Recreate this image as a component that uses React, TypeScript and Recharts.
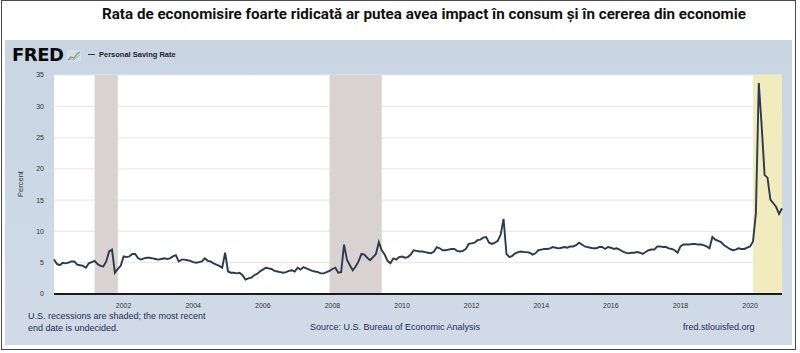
import {
  LineChart,
  Line,
  XAxis,
  YAxis,
  CartesianGrid,
  ReferenceArea,
} from "recharts";

// Personal Saving Rate, monthly, Jan..Dec of each year (percent)
const y2000 = [5.5, 4.8, 4.6, 5.0, 4.9, 5.0, 5.2, 5.2, 4.7, 4.6, 4.5, 4.2];
const y2001 = [4.9, 5.1, 5.3, 4.8, 4.5, 4.4, 5.2, 6.8, 7.1, 3.4, 4.0, 4.5];
const y2002 = [6.0, 5.9, 6.0, 6.4, 6.4, 5.7, 5.5, 5.7, 5.8, 5.8, 5.7, 5.6];
const y2003 = [5.5, 5.6, 5.7, 5.6, 5.7, 6.0, 6.2, 5.2, 5.5, 5.5, 5.4, 5.3];
const y2004 = [5.1, 5.0, 5.1, 5.2, 5.7, 5.3, 5.2, 4.9, 4.7, 4.5, 4.2, 6.6];
const y2005 = [3.6, 3.4, 3.4, 3.3, 3.4, 3.0, 2.3, 2.5, 2.6, 3.0, 3.2, 3.6];
const y2006 = [3.9, 4.2, 4.1, 4.0, 3.7, 3.6, 3.5, 3.4, 3.5, 3.7, 3.8, 3.6];
const y2007 = [4.2, 3.9, 4.3, 4.1, 3.9, 3.7, 3.6, 3.5, 3.3, 3.3, 3.5, 3.7];
const y2008 = [4.0, 4.2, 3.4, 3.5, 7.9, 5.5, 4.6, 3.8, 4.4, 5.2, 6.4, 6.3];
const y2009 = [5.8, 5.4, 5.9, 6.4, 8.3, 7.0, 6.3, 5.3, 4.9, 5.7, 5.5, 5.9];
const y2010 = [6.0, 5.8, 5.9, 6.3, 7.0, 6.9, 6.8, 6.8, 6.7, 6.6, 6.5, 6.8];
const y2011 = [7.5, 7.3, 7.0, 7.0, 7.1, 7.2, 7.2, 6.9, 6.8, 6.9, 7.2, 8.0];
const y2012 = [8.1, 8.2, 8.6, 8.7, 9.0, 9.1, 8.2, 8.0, 8.2, 8.5, 9.5, 12.0];
const y2013 = [6.4, 5.9, 6.1, 6.5, 6.7, 6.8, 6.7, 6.7, 6.6, 6.3, 6.5, 7.0];
const y2014 = [7.1, 7.2, 7.2, 7.3, 7.5, 7.4, 7.3, 7.4, 7.5, 7.4, 7.6, 7.6];
const y2015 = [7.8, 8.2, 7.9, 7.6, 7.5, 7.4, 7.3, 7.3, 7.5, 7.5, 7.2, 7.5];
const y2016 = [7.4, 7.2, 7.3, 7.1, 6.8, 6.6, 6.5, 6.6, 6.6, 6.7, 6.6, 6.4];
const y2017 = [6.7, 7.0, 7.1, 7.1, 7.6, 7.6, 7.5, 7.5, 7.3, 7.2, 7.0, 6.6];
const y2018 = [7.6, 7.9, 7.9, 7.9, 8.0, 8.0, 7.9, 7.9, 7.8, 7.6, 7.3, 9.1];
const y2019 = [8.7, 8.5, 8.3, 7.8, 7.5, 7.2, 7.0, 7.1, 7.3, 7.2, 7.2, 7.4];
const y2020 = [7.6, 8.4, 12.9, 33.7, 26.8, 19.0, 18.6, 15.1, 14.5, 13.9, 12.8, 13.7];

const years = [
  y2000, y2001, y2002, y2003, y2004, y2005, y2006, y2007, y2008, y2009, y2010,
  y2011, y2012, y2013, y2014, y2015, y2016, y2017, y2018, y2019, y2020,
];
const firstYear = 2000;

const xTicks = [2002, 2004, 2006, 2008, 2010, 2012, 2014, 2016, 2018, 2020];
const yTicks = [0, 5, 10, 15, 20, 25, 30, 35];

// recessions [start, end] in fractional years
const recessions = [
  [2001 + 2 / 12, 2001 + 10 / 12],
  [2007 + 11 / 12, 2009 + 5 / 12],
];
const covid = [2020 + 1 / 12, 2020 + 11 / 12];

const data = years.flatMap((vals, yi) =>
  vals.map((v, m) => ({ t: firstYear + yi + m / 12, value: v }))
);

const small = { fontFamily: "'Liberation Sans', Arial, sans-serif" };

export default function App() {
  return (
    <div
      style={{
        position: "absolute",
        left: 0,
        top: 0,
        width: 800,
        height: 353,
        background: "#fff",
        overflow: "hidden",
      }}
    >
      <svg width={800} height={38} style={{ position: "absolute", left: 0, top: 0 }}>
        <text
          x={424}
          y={19}
          textAnchor="middle"
          textLength={644}
          lengthAdjust="spacingAndGlyphs"
          fontFamily="Roboto, sans-serif"
          fontWeight={700}
          fontSize={14}
          fill="#111"
        >
          Rata de economisire foarte ridicată ar putea avea impact în consum și în cererea din economie
        </text>
      </svg>

      {/* outer frame */}
      <div
        style={{
          position: "absolute",
          left: 1,
          top: 0,
          width: 793,
          height: 348,
          border: "1.5px solid #4a4a4a",
          pointerEvents: "none",
        }}
      />

      {/* FRED panel */}
      <div
        style={{
          position: "absolute",
          left: 5,
          top: 40,
          width: 787,
          height: 305,
          background: "linear-gradient(#c9d5e3, #d0dbe7)",
        }}
      />

      <div
        style={{
          position: "absolute",
          left: 12,
          top: 44,
          fontFamily: "'DejaVu Sans', sans-serif",
          fontWeight: 900,
          fontSize: 18,
          letterSpacing: -0.5,
          color: "#0a0a0a",
        }}
      >
        FRED
      </div>
      <svg width={14} height={12} style={{ position: "absolute", left: 67, top: 50 }}>
        <rect x={0} y={0} width={14} height={12} fill="#d6dde4" />
        <polyline points="1,10 4,7 7,8 10,4 13,2" fill="none" stroke="#7d9b6a" strokeWidth={1.2} />
        <polyline points="1,11 4,9 7,10 10,7 13,5" fill="none" stroke="#9aa8b6" strokeWidth={0.8} />
      </svg>
      <div
        style={{
          ...small,
          position: "absolute",
          left: 88,
          top: 50,
          fontSize: 7.5,
          fontWeight: 700,
          color: "#222",
          display: "flex",
          alignItems: "center",
          gap: 4,
        }}
      >
        <span style={{ display: "inline-block", width: 7, height: 1.5, background: "#2b3a4d" }} />
        Personal Saving Rate
      </div>

      <div
        style={{
          ...small,
          position: "absolute",
          left: 20,
          top: 184,
          fontSize: 7.5,
          color: "#333",
          transform: "translate(-50%, -50%) rotate(-90deg)",
        }}
      >
        Percent
      </div>

      <div style={{ position: "absolute", left: 0, top: 0 }}>
        <LineChart
          width={800}
          height={353}
          data={data}
          margin={{ top: 75, right: 18, bottom: 39, left: 24 }}
        >
          <CartesianGrid
            vertical={false}
            horizontal
            stroke="#efe8ea"
            strokeWidth={1.2}
            fill="#ffffff"
            fillOpacity={1}
          />
          {recessions.map(([a, b], i) => (
            <ReferenceArea
              key={i}
              x1={a}
              x2={b}
              y1={0}
              y2={35}
              fill="#d9d2d3"
              fillOpacity={1}
              stroke="none"
            />
          ))}
          <ReferenceArea
            x1={covid[0]}
            x2={covid[1]}
            y1={0}
            y2={35}
            fill="#f2ebbe"
            fillOpacity={1}
            stroke="none"
          />
          <XAxis
            dataKey="t"
            type="number"
            domain={[firstYear, 2020 + 11 / 12]}
            ticks={xTicks}
            tickFormatter={(v) => String(Math.round(v))}
            height={20}
            tickLine={false}
            tickSize={0}
            tickMargin={9}
            axisLine={{ stroke: "#1a1a1a", strokeWidth: 2 }}
            tick={{ fontSize: 7, fill: "#333", ...small }}
            interval={0}
          />
          <YAxis
            type="number"
            domain={[0, 35]}
            ticks={yTicks}
            width={30}
            axisLine={false}
            tickLine={false}
            tickSize={0}
            tickMargin={10}
            tick={{ fontSize: 7, fill: "#333", ...small }}
            interval={0}
          />
          <Line
            type="linear"
            dataKey="value"
            stroke="#2b3a4d"
            strokeWidth={1.9}
            dot={false}
            isAnimationActive={false}
          />
        </LineChart>
      </div>

      <div
        style={{
          ...small,
          position: "absolute",
          left: 28,
          top: 311,
          fontSize: 9,
          lineHeight: "11.5px",
          color: "#1e2c55",
        }}
      >
        U.S. recessions are shaded; the most recent
        <br />
        end date is undecided.
      </div>
      <div
        style={{
          ...small,
          position: "absolute",
          left: 310,
          top: 322,
          fontSize: 9,
          color: "#1e2c55",
        }}
      >
        Source: U.S. Bureau of Economic Analysis
      </div>
      <div
        style={{
          ...small,
          position: "absolute",
          left: 683,
          top: 322,
          fontSize: 9,
          color: "#1e2c55",
        }}
      >
        fred.stlouisfed.org
      </div>
    </div>
  );
}
